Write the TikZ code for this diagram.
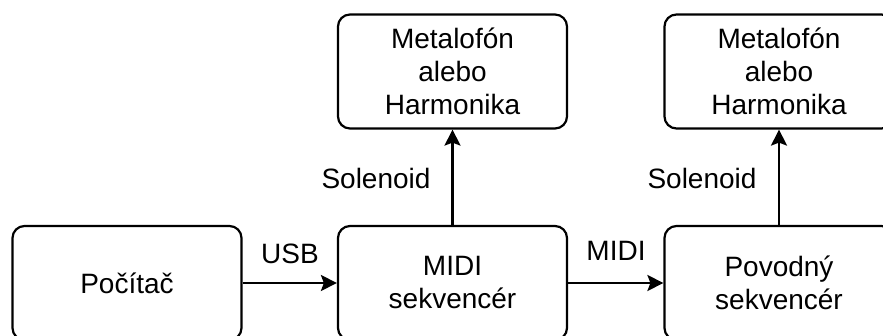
\documentclass[tikz,border=0pt]{standalone}
\usepackage{fontspec}
\setmainfont{Liberation Sans}
\usetikzlibrary{arrows.meta}
\begin{document}
\begin{tikzpicture}[x=1pt,y=-1pt,
  blockbox/.style={draw=black, line width=2.2pt, rounded corners=12pt,
    minimum width=229pt, minimum height=114pt, inner sep=0pt,
    align=center, font=\fontsize{28}{33}\selectfont},
  lbl/.style={font=\fontsize{28}{33}\selectfont, inner sep=0pt},
  conn/.style={line width=2.2pt, -{Stealth[length=16pt,width=16pt,inset=3pt]}}]
  \useasboundingbox (0,0) rectangle (883,336);
  \clip (0,0) rectangle (883,336);

  % lower row
  \node[blockbox] (pc)   at (127,283)   {Počítač};
  \node[blockbox] (midi) at (452.5,283) {MIDI\\sekvencér};
  \node[blockbox] (pov)  at (779,283)   {Povodný\\sekvencér};

  % upper row
  \node[blockbox] (inst1) at (452.5,71.5) {Metalofón\\alebo\\Harmonika};
  \node[blockbox] (inst2) at (779,71.5)   {Metalofón\\alebo\\Harmonika};

  % connectors
  \draw[conn] (pc) -- (midi);
  \draw[conn] (midi) -- (pov);
  \draw[conn] (midi) -- (inst1);
  \draw[conn] (pov) -- (inst2);

  % connector labels
  \node[lbl] (usb)  at (290,254) {USB};
  \node[lbl] (mid)  at (616,251) {MIDI};
  \node[lbl] (sol1) at (376,178) {Solenoid};
  \node[lbl] (sol2) at (702,178) {Solenoid};
\end{tikzpicture}
\end{document}
